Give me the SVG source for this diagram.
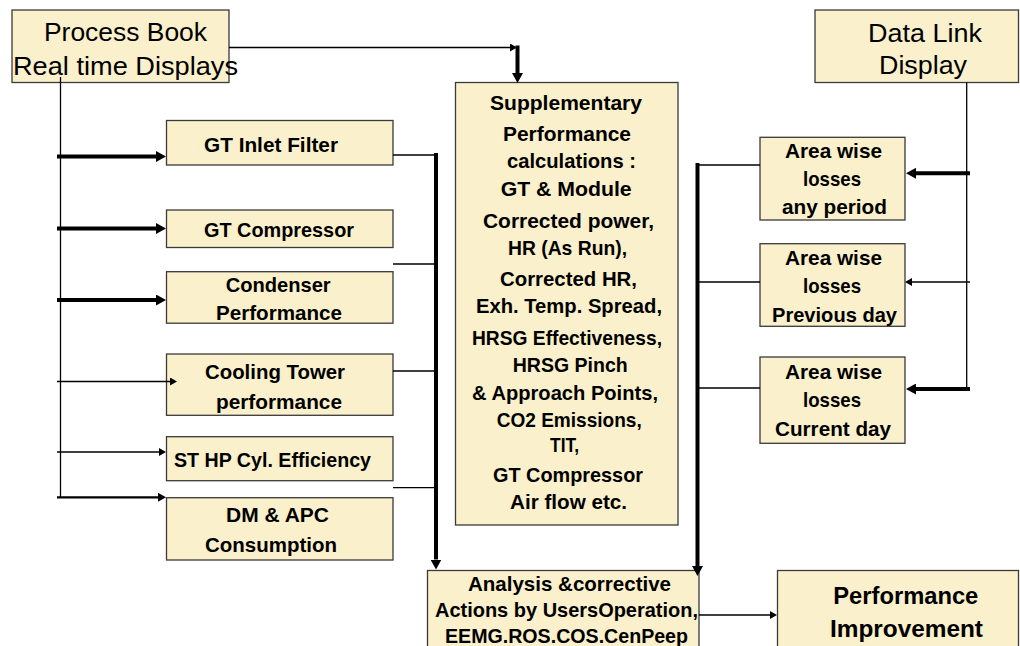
<svg xmlns="http://www.w3.org/2000/svg" width="1020" height="646" viewBox="0 0 1020 646">
  <style>
    .box { fill: #FAF0CB; stroke: #3a3a3a; stroke-width: 1.3; }
    .t { font-family: "Liberation Sans", Arial, sans-serif; fill: #000; }
    .r { font-size: 26px; }
    .b { font-size: 20.5px; font-weight: bold; }
    .b2 { font-size: 23px; font-weight: bold; }
    .ln { stroke: #000; fill: none; stroke-width: 1.3; }
    .mid { stroke-width: 2.2; }
    .thick { stroke-width: 4; }
  </style>
  <defs>
    <marker id="headThin" markerUnits="userSpaceOnUse" viewBox="0 0 7 8" markerWidth="7" markerHeight="8" refX="0" refY="4" orient="auto">
      <path d="M0,0 L7,4 L0,8 Z" fill="#000"/>
    </marker>
    <marker id="headMid" markerUnits="userSpaceOnUse" viewBox="0 0 8 9" markerWidth="8" markerHeight="9" refX="0" refY="4.5" orient="auto">
      <path d="M0,0 L8,4.5 L0,9 Z" fill="#000"/>
    </marker>
    <marker id="headThick" markerUnits="userSpaceOnUse" viewBox="0 0 10 11" markerWidth="10" markerHeight="11" refX="0" refY="5.5" orient="auto">
      <path d="M0,0 L10,5.5 L0,11 Z" fill="#000"/>
    </marker>
  </defs>

  <rect width="1020" height="646" fill="#fff"/>

  <g id="process-book">
    <rect class="box" x="12" y="10" width="217" height="72.5"/>
    <text class="t r" x="44" y="41" textLength="163" lengthAdjust="spacingAndGlyphs">Process Book</text>
    <text class="t r" x="13" y="75" textLength="225" lengthAdjust="spacingAndGlyphs">Real time Displays</text>
  </g>

  <g id="data-link">
    <rect class="box" x="815" y="10" width="203.5" height="72.5"/>
    <text class="t r" x="868" y="42" textLength="114" lengthAdjust="spacingAndGlyphs">Data Link</text>
    <text class="t r" x="879" y="74" textLength="88" lengthAdjust="spacingAndGlyphs">Display</text>
  </g>

  <g id="gt-inlet-filter">
    <rect class="box" x="166.5" y="120.5" width="226.5" height="44.5"/>
    <text class="t b" x="204" y="151.7" textLength="134" lengthAdjust="spacingAndGlyphs">GT Inlet Filter</text>
  </g>

  <g id="gt-compressor">
    <rect class="box" x="166.5" y="210" width="226.5" height="37.5"/>
    <text class="t b" x="204" y="236.7" textLength="150" lengthAdjust="spacingAndGlyphs">GT Compressor</text>
  </g>

  <g id="condenser">
    <rect class="box" x="166.5" y="271.7" width="226.5" height="51.5"/>
    <text class="t b" x="225.7" y="292" textLength="105" lengthAdjust="spacingAndGlyphs">Condenser</text>
    <text class="t b" x="216" y="319.5" textLength="126" lengthAdjust="spacingAndGlyphs">Performance</text>
  </g>

  <g id="cooling-tower">
    <rect class="box" x="166.5" y="354" width="226.5" height="61.3"/>
    <text class="t b" x="205" y="378.5" textLength="140" lengthAdjust="spacingAndGlyphs">Cooling Tower</text>
    <text class="t b" x="216" y="408.5" textLength="126" lengthAdjust="spacingAndGlyphs">performance</text>
  </g>

  <g id="st-hp">
    <rect class="box" x="166.5" y="436.7" width="226.5" height="44"/>
    <text class="t b" x="174" y="467" textLength="197" lengthAdjust="spacingAndGlyphs">ST HP Cyl. Efficiency</text>
  </g>

  <g id="dm-apc">
    <rect class="box" x="166.5" y="497.7" width="226.5" height="62.3"/>
    <text class="t b" x="226" y="522" textLength="103" lengthAdjust="spacingAndGlyphs">DM &amp; APC</text>
    <text class="t b" x="205" y="552" textLength="132" lengthAdjust="spacingAndGlyphs">Consumption</text>
  </g>

  <g id="supplementary">
    <rect class="box" x="455.5" y="82.5" width="222.5" height="442.5"/>
    <text class="t b" x="490" y="109.5" textLength="152" lengthAdjust="spacingAndGlyphs">Supplementary</text>
    <text class="t b" x="503" y="141" textLength="128" lengthAdjust="spacingAndGlyphs">Performance</text>
    <text class="t b" x="507" y="168" textLength="129" lengthAdjust="spacingAndGlyphs">calculations :</text>
    <text class="t b" x="500.7" y="195.5" textLength="131" lengthAdjust="spacingAndGlyphs">GT &amp; Module</text>
    <text class="t b" x="483" y="228" textLength="171" lengthAdjust="spacingAndGlyphs">Corrected power,</text>
    <text class="t b" x="508" y="254.5" textLength="119" lengthAdjust="spacingAndGlyphs">HR (As Run),</text>
    <text class="t b" x="500" y="285.5" textLength="137" lengthAdjust="spacingAndGlyphs">Corrected HR,</text>
    <text class="t b" x="476" y="313" textLength="186" lengthAdjust="spacingAndGlyphs">Exh. Temp. Spread,</text>
    <text class="t b" x="472" y="344.5" textLength="190" lengthAdjust="spacingAndGlyphs">HRSG Effectiveness,</text>
    <text class="t b" x="512.7" y="372" textLength="115" lengthAdjust="spacingAndGlyphs">HRSG Pinch</text>
    <text class="t b" x="472" y="400" textLength="186" lengthAdjust="spacingAndGlyphs">&amp; Approach Points,</text>
    <text class="t b" x="496.7" y="427" textLength="145" lengthAdjust="spacingAndGlyphs">CO2 Emissions,</text>
    <text class="t b" x="550" y="452" textLength="29" lengthAdjust="spacingAndGlyphs">TIT,</text>
    <text class="t b" x="493" y="482" textLength="150" lengthAdjust="spacingAndGlyphs">GT Compressor</text>
    <text class="t b" x="510" y="508.5" textLength="117" lengthAdjust="spacingAndGlyphs">Air flow etc.</text>
  </g>

  <g id="losses-any-period">
    <rect class="box" x="760" y="137.3" width="145" height="82.7"/>
    <text class="t b" x="785" y="158" textLength="97" lengthAdjust="spacingAndGlyphs">Area wise</text>
    <text class="t b" x="803" y="186" textLength="58" lengthAdjust="spacingAndGlyphs">losses</text>
    <text class="t b" x="782" y="213.5" textLength="105" lengthAdjust="spacingAndGlyphs">any period</text>
  </g>

  <g id="losses-previous-day">
    <rect class="box" x="760" y="243.7" width="145" height="82.6"/>
    <text class="t b" x="785" y="264.5" textLength="97" lengthAdjust="spacingAndGlyphs">Area wise</text>
    <text class="t b" x="803" y="292.5" textLength="58" lengthAdjust="spacingAndGlyphs">losses</text>
    <text class="t b" x="772" y="321.7" textLength="125" lengthAdjust="spacingAndGlyphs">Previous day</text>
  </g>

  <g id="losses-current-day">
    <rect class="box" x="760" y="357" width="145" height="86.3"/>
    <text class="t b" x="785" y="378.5" textLength="97" lengthAdjust="spacingAndGlyphs">Area wise</text>
    <text class="t b" x="803" y="407" textLength="58" lengthAdjust="spacingAndGlyphs">losses</text>
    <text class="t b" x="775" y="435.5" textLength="116" lengthAdjust="spacingAndGlyphs">Current day</text>
  </g>

  <g id="analysis">
    <rect class="box" x="427.5" y="570.5" width="271.5" height="85"/>
    <text class="t b" x="468" y="591" textLength="203" lengthAdjust="spacingAndGlyphs">Analysis &amp;corrective</text>
    <text class="t b" x="435" y="617" textLength="263" lengthAdjust="spacingAndGlyphs">Actions by UsersOperation,</text>
    <text class="t b" x="445" y="643" textLength="243" lengthAdjust="spacingAndGlyphs">EEMG.ROS.COS.CenPeep</text>
  </g>

  <g id="performance-improvement">
    <rect class="box" x="777.5" y="570.5" width="241" height="85"/>
    <text class="t b2" x="833.3" y="604.3" textLength="145" lengthAdjust="spacingAndGlyphs">Performance</text>
    <text class="t b2" x="830" y="636.5" textLength="153" lengthAdjust="spacingAndGlyphs">Improvement</text>
  </g>

  <!-- connectors, drawn over the boxes -->
  <g id="connectors">
    <!-- Process Book to calculations -->
    <path class="ln" d="M229,47.5 H510" marker-end="url(#headThin)"/>
    <path class="ln thick" d="M517.5,45.5 V73" marker-end="url(#headThick)"/>
    <!-- feed bus from Process Book -->
    <path class="ln" d="M60.5,77 V497.5"/>
    <path class="ln thick" d="M57,156.5 H156" marker-end="url(#headThick)"/>
    <path class="ln thick" d="M57,228.5 H156" marker-end="url(#headThick)"/>
    <path class="ln thick" d="M57,300 H156" marker-end="url(#headThick)"/>
    <path class="ln" d="M57,381.5 H170" marker-end="url(#headThin)"/>
    <path class="ln" d="M57,452 H159" marker-end="url(#headThin)"/>
    <path class="ln mid" d="M57,497.3 H158" marker-end="url(#headMid)"/>
    <!-- collector to analysis -->
    <path class="ln" d="M393,155 H436"/>
    <path class="ln" d="M393,264 H436"/>
    <path class="ln" d="M393,371 H436"/>
    <path class="ln" d="M393,487.7 H436"/>
    <path class="ln thick" d="M436,153 V559.5" marker-end="url(#headThick)"/>
    <!-- Data Link feed -->
    <path class="ln" d="M966.7,82.5 V389"/>
    <path class="ln thick" d="M970,173.3 H916" marker-end="url(#headThick)"/>
    <path class="ln" d="M970,282 H912" marker-end="url(#headThin)"/>
    <path class="ln thick" d="M970,389 H916" marker-end="url(#headThick)"/>
    <!-- losses collector -->
    <path class="ln" d="M760,165 H697.5"/>
    <path class="ln" d="M760,282 H697.5"/>
    <path class="ln" d="M760,388 H697.5"/>
    <path class="ln thick" d="M697.5,163 V566" marker-end="url(#headThick)"/>
    <!-- analysis to improvement -->
    <path class="ln" d="M699,615 H770" marker-end="url(#headThin)"/>
  </g>
</svg>
